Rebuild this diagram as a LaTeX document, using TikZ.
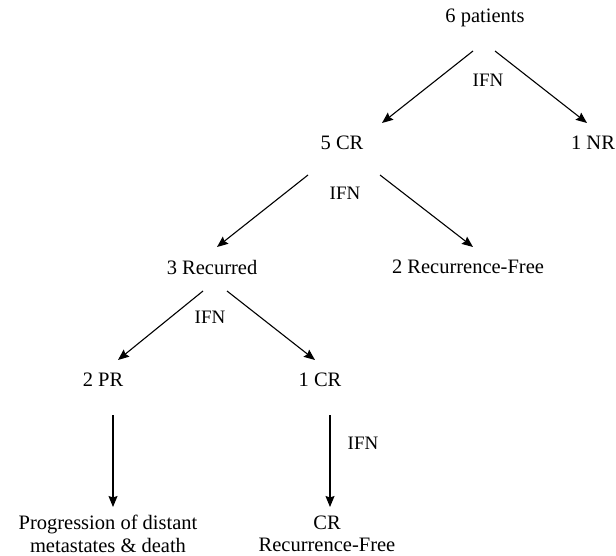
\documentclass[tikz,border=0pt]{standalone}
\usepackage{fontspec}
\setmainfont{Liberation Serif}
\usetikzlibrary{arrows.meta}
\tikzstyle{outcome} = [
    align=center,
    inner sep=0pt,
    font=\fontsize{20.5}{22.5}\selectfont
]
\tikzstyle{treatment} = [
    inner sep=0pt,
    font=\fontsize{19}{21}\selectfont
]
\tikzstyle{arrow} = [line width=1.1pt,->,>={Stealth[length=11pt,width=9pt,inset=1.5pt]}]

\begin{document}
\begin{tikzpicture}[x=1pt, y=-1pt]
\useasboundingbox (0,0) rectangle (616,556);

\node (patients) [outcome] at (485,18) {6 patients};

\node (cr5) [outcome] at (342,143) {5 CR};
\node (nr1) [outcome] at (593,143) {1 NR};

\node (recurred3) [outcome] at (212,267) {3 Recurred};
\node (free2) [outcome] at (468,267) {2 Recurrence-Free};

\node (pr2) [outcome] at (103,380) {2 PR};
\node (cr1) [outcome] at (320,380) {1 CR};

\node (death) [outcome] at (108,534)
{Progression of distant\\metastates \& death};
\node (crfree) [outcome] at (327,534)
{CR\\Recurrence-Free};

\node (ifnA) [treatment] at (488,80) {IFN};
\node (ifnB) [treatment] at (345,193) {IFN};
\node (ifnC) [treatment] at (210,317) {IFN};
\node (ifnD) [treatment] at (363,443) {IFN};

\draw [arrow] ([shift={(-12,33)}]patients.center) -- ([shift={(40,-20)}]cr5.center);
\draw [arrow] ([shift={(10,33)}]patients.center) -- ([shift={(-6,-20)}]nr1.center);

\draw [arrow] ([shift={(-34,32)}]cr5.center) -- ([shift={(5,-20)}]recurred3.center);
\draw [arrow] ([shift={(38,32)}]cr5.center) -- ([shift={(5,-20)}]free2.center);

\draw [arrow] ([shift={(-9,24)}]recurred3.center) -- ([shift={(15,-20)}]pr2.center);
\draw [arrow] ([shift={(15,24)}]recurred3.center) -- ([shift={(-5,-20)}]cr1.center);

\draw [arrow] ([shift={(10,35)}]pr2.center) -- ([shift={(5,-27)}]death.center);
\draw [arrow] ([shift={(10,35)}]cr1.center) -- ([shift={(3,-27)}]crfree.center);

\end{tikzpicture}
\end{document}
